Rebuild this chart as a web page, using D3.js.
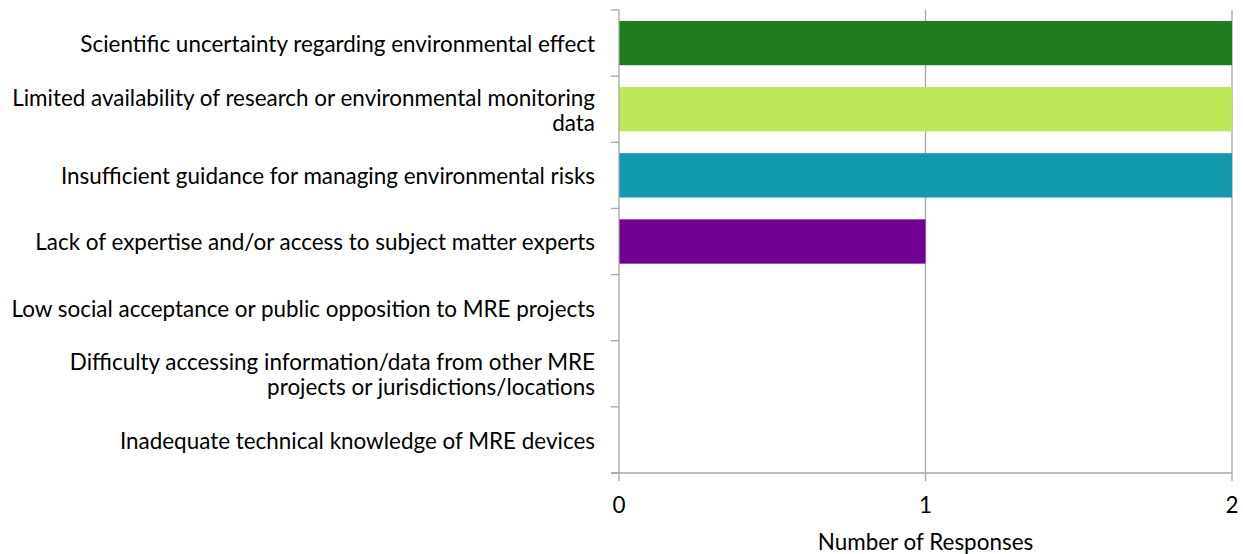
<!DOCTYPE html>
<html>
<head>
<meta charset="utf-8">
<script src="https://cdn.jsdelivr.net/npm/d3@7"></script>
<style>
  html, body { margin: 0; padding: 0; background: #fff; }
  svg { display: block; }
  text { font-family: "Lato", "Open Sans", sans-serif; fill: #000; }
</style>
</head>
<body>
<svg id="chart" width="1243" height="554"></svg>
<script>
const categories = [
  ["Scientific uncertainty regarding environmental effect"],
  ["Limited availability of research or environmental monitoring", "data"],
  ["Insufficient guidance for managing environmental risks"],
  ["Lack of expertise and/or access to subject matter experts"],
  ["Low social acceptance or public opposition to MRE projects"],
  ["Difficulty accessing information/data from other MRE", "projects or jurisdictions/locations"],
  ["Inadequate technical knowledge of MRE devices"]
];
const values = [2, 2, 2, 1, 0, 0, 0];
const barColors = ["#217C1F", "#BEE858", "#1299AD", "#710090", "#888888", "#888888", "#888888"];
const xTicks = [0, 1, 2];
const xTitle = "Number of Responses";

(function () {
const svg = d3.select("#chart");
const margin = { left: 619, right: 11, top: 10, bottom: 81 };
const W = 1243, H = 554;
const x = d3.scaleLinear().domain([0, 2]).range([margin.left, W - margin.right]);
const y = d3.scaleBand().domain(d3.range(categories.length))
  .range([margin.top, H - margin.bottom]).paddingInner(0.33).paddingOuter(0.165);
const step = y.step();
const plotTop = margin.top, plotBottom = H - margin.bottom;

const probe = svg.append("text").attr("font-size", 16).text(categories[0][0]);
const w16 = probe.node().getComputedTextLength();
probe.remove();
const fs = 16 * 515 / w16;

svg.append("g").selectAll("line").data(xTicks.filter(d => d > 0)).join("line")
  .attr("x1", d => x(d)).attr("x2", d => x(d))
  .attr("y1", plotTop).attr("y2", plotBottom)
  .attr("stroke", "#A6A6A6").attr("stroke-width", 1.3);

svg.append("g").selectAll("rect").data(values).join("rect")
  .attr("x", x(0))
  .attr("y", (d, i) => y(i))
  .attr("width", d => x(d) - x(0))
  .attr("height", y.bandwidth())
  .attr("fill", (d, i) => barColors[i]);

svg.append("line").attr("x1", x(0)).attr("x2", x(0)).attr("y1", plotTop).attr("y2", plotBottom)
  .attr("stroke", "#A6A6A6").attr("stroke-width", 1.3);
const bounds = d3.range(categories.length + 1).map(i => plotTop + i * step);
svg.append("g").selectAll("line").data(bounds).join("line")
  .attr("x1", x(0) - 8).attr("x2", x(0)).attr("y1", d => d).attr("y2", d => d)
  .attr("stroke", "#A6A6A6").attr("stroke-width", 1.3);

svg.append("line").attr("x1", x(0) - 8).attr("x2", x(2)).attr("y1", plotBottom).attr("y2", plotBottom)
  .attr("stroke", "#A6A6A6").attr("stroke-width", 1.3);
svg.append("g").selectAll("line").data(xTicks).join("line")
  .attr("x1", d => x(d)).attr("x2", d => x(d)).attr("y1", plotBottom).attr("y2", plotBottom + 8)
  .attr("stroke", "#A6A6A6").attr("stroke-width", 1.3);

svg.append("g").selectAll("text").data(xTicks).join("text")
  .attr("x", d => x(d)).attr("y", 505).attr("dy", "0.35em")
  .attr("text-anchor", "middle").attr("font-size", fs)
  .text(d => d);

svg.append("text").attr("x", x(1)).attr("y", 542).attr("dy", "0.35em")
  .attr("text-anchor", "middle").attr("font-size", fs).text(xTitle);

const lineH = 25;
const lab = svg.append("g").selectAll("text").data(categories).join("text")
  .attr("text-anchor", "end").attr("font-size", fs);
lab.each(function (lines, i) {
  const cy = plotTop + (i + 0.5) * step + 1;
  const y0 = cy - (lines.length - 1) * lineH / 2;
  d3.select(this).selectAll("tspan").data(lines).join("tspan")
    .attr("x", 595).attr("y", (d, j) => y0 + j * lineH).attr("dy", "0.35em")
    .text(d => d);
});
})();
</script>
</body>
</html>
